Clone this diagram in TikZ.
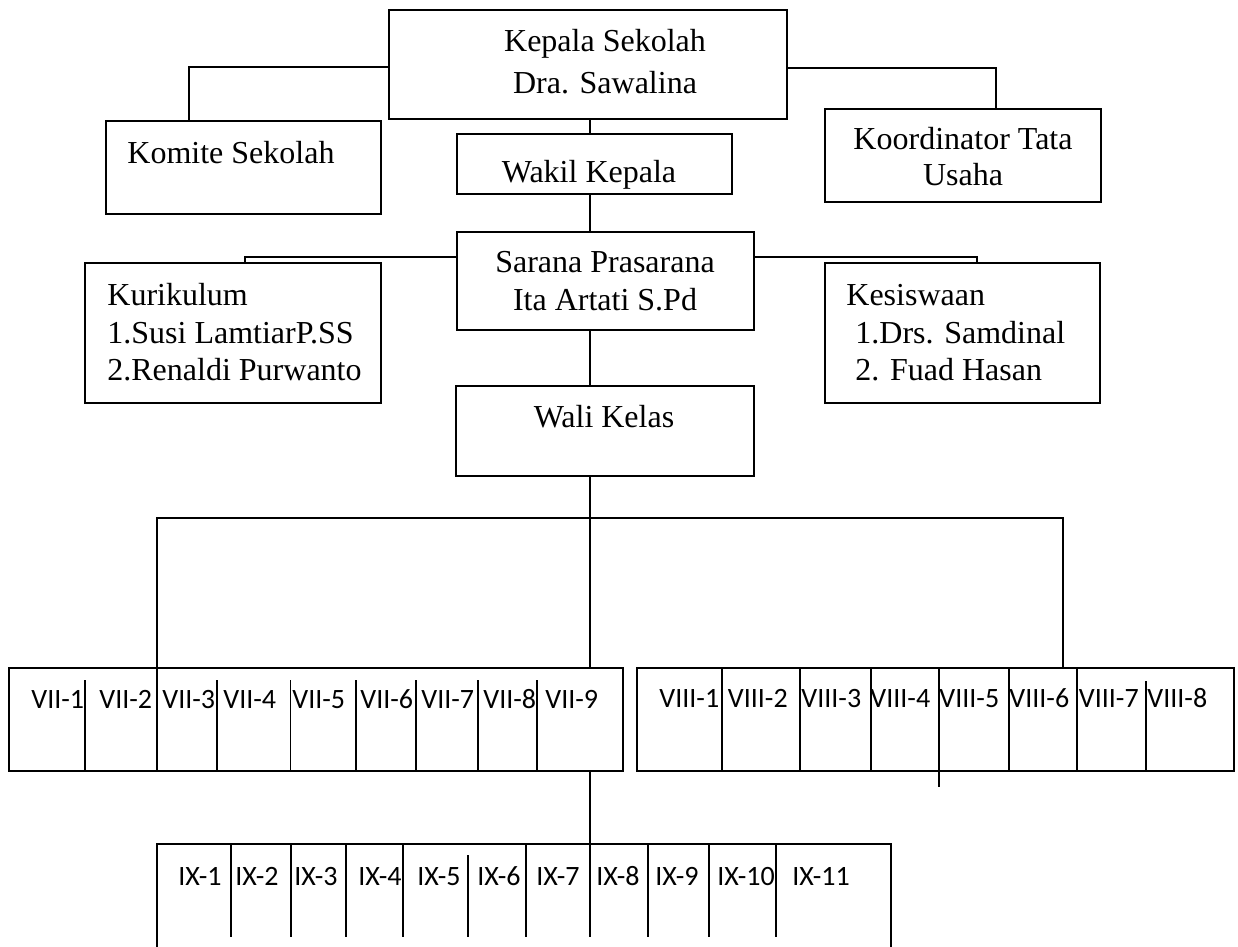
\documentclass[tikz,border=0pt]{standalone}
\usepackage{fontspec}
\setmainfont{Liberation Serif}
\newfontfamily\calfont{Carlito}
\usetikzlibrary{fit,calc}
\begin{document}
\begin{tikzpicture}[x=0.5pt,y=-0.5pt,
  box/.style={draw, line width=1pt, inner sep=0pt, fit={#1}},
  frame/.style={inner sep=0pt, fit={#1}},
  conn/.style={line width=1pt},
  divl/.style={line width=0.8pt},
  tnr/.style={font=\fontsize{16}{19}\selectfont, inner sep=0pt, anchor=base},
  tnrl/.style={tnr, anchor=base west},
  cal/.style={font=\calfont\fontsize{14}{17}\selectfont, inner sep=0pt, anchor=base west}]
\useasboundingbox (0,0) rectangle (1238,947);
\coordinate (spine) at (590,0);
% boxes
\node[box={(389,10)(787,119)}] (kepala) {};
\node[box={(106,121)(381,214)}] (komite) {};
\node[box={(457,134)(732,194)}] (wakil) {};
\node[box={(825,109)(1101,202)}] (koord) {};
\node[box={(457,232)(754,330)}] (sarana) {};
\node[box={(85,263)(381,403)}] (kuri) {};
\node[box={(825,263)(1100,403)}] (kesis) {};
\node[box={(456,386)(754,476)}] (wali) {};
\node[box={(9,668)(623,771)}] (vii) {};
\node[box={(637,668)(1234,771)}] (viii) {};
\node[frame={(157,844)(891,947)}] (ix) {};
\draw[conn] (ix.south west) -- (ix.north west) -- (ix.north east) -- (ix.south east);
% texts
\node[tnr] (kt1) at (605,52) {Kepala Sekolah};
\node[tnr] (kt2) at (605,94) {Dra. Sawalina};
\node[tnrl] (komt) at (127,163) {Komite Sekolah};
\node[tnr] (wkt) at (589,183) {Wakil Kepala};
\node[tnr] (kot1) at (963,150) {Koordinator Tata};
\node[tnr] (kot2) at (963,185) {Usaha};
\node[tnr] (st1) at (605,272) {Sarana Prasarana};
\node[tnr] (st2) at (605,310) {Ita Artati S.Pd};
\node[tnrl] (ku1) at (107,305) {Kurikulum};
\node[tnrl] (ku2) at (107,343) {1.Susi LamtiarP.SS};
\node[tnrl] (ku3) at (107,380) {2.Renaldi Purwanto};
\node[tnrl] (ke1) at (846,305) {Kesiswaan};
\node[tnrl] (ke2) at (855,343) {1.Drs. Samdinal};
\node[tnrl] (ke3) at (855,380) {2. Fuad Hasan};
\node[tnr] (wat) at (604,427) {Wali Kelas};
% connectors
\draw[conn] ($(kepala.north west)+(0,58)$) -| ($(komite.north west)+(84,0)$);
\draw[conn] ($(kepala.north east)+(0,59)$) -| ($(koord.north west)+(172,0)$);
\draw[conn] (kepala.south -| spine) -- (wakil.north -| spine);
\draw[conn] (wakil.south -| spine) -- (sarana.north -| spine);
\draw[conn] ($(sarana.north west)+(0,26)$) -| ($(kuri.north west)+(161,0)$);
\draw[conn] ($(sarana.north east)+(0,26)$) -| ($(kesis.north west)+(153,0)$);
\draw[conn] (sarana.south -| spine) -- (wali.north -| spine);
\coordinate (busL) at (157,518);
\coordinate (busR) at (1063,518);
\draw[conn] (wali.south -| spine) -- (spine |- vii.north);
\draw[conn] (busL |- vii.north) -- (busL) -- (busR) -- (busR |- viii.north);
\draw[conn] (spine |- vii.south) -- (spine |- ix.north);
% VII dividers
\foreach \x in {85,217,290.5,356,416,478,537} \draw[divl] (\x,680) -- (\x,771);
\draw[divl] (157,668) -- (157,771);
% VIII dividers
\foreach \x in {722,800,871,1009,1077} \draw[divl] (\x,668) -- (\x,771);
\draw[divl] (939,668) -- (939,787);
\draw[divl] (1146,681) -- (1146,771);
% IX dividers
\foreach \x in {231,291,346,403,526,590,648,709,776} \draw[divl] (\x,844) -- (\x,937);
\draw[divl] (468,855) -- (468,937);
% labels
\foreach \x [count=\i] in {31,99,162,223,292,360,421,483,545}
  \node[cal] (vii\i) at (\x,708) {VII-\i};
\foreach \x [count=\i] in {659,727.5,801,870,939,1009,1078.5,1147}
  \node[cal] (viii\i) at (\x,707) {VIII-\i};
\foreach \x [count=\i] in {178,235,294,358,417,477,536,596,655,717,792}
  \node[cal] (ixl\i) at (\x,885) {IX-\i};
\end{tikzpicture}
\end{document}
